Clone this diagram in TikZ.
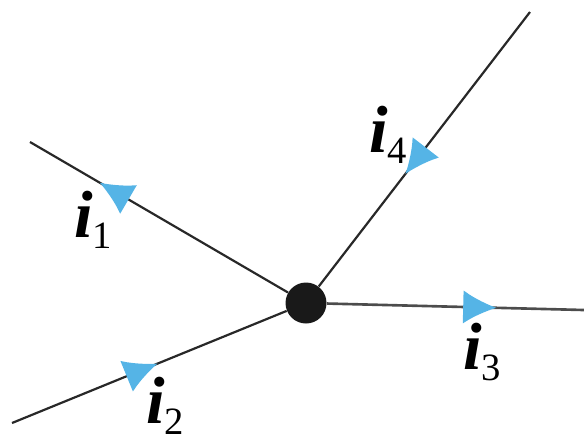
\documentclass[tikz,border=0pt]{standalone}
\usepackage{fontspec}
\setmainfont{Liberation Serif}
\usepackage{xcolor}
\definecolor{wireblack}{RGB}{40, 40, 40}
\definecolor{currentblue}{RGB}{85, 180, 230}
\usepackage{tikz}
\usetikzlibrary{arrows.meta,decorations.markings}
\tikzset{
  wire/.style={draw=wireblack, line width=1.25pt},
  junction/.style={
    circle, fill=black!90, draw=none, minimum size=0.82cm, inner sep=0pt
  },
  currentlabel/.style={font=\fontsize{38}{42}\selectfont, inner sep=0pt},
  flowmark/.style={
    postaction={decorate},
    decoration={markings, mark=at position #1 with
      {\arrow{Latex[length=19pt,width=19pt,color=currentblue]}}}
  },
}
\newcommand{\cur}[1]{\textbf{\textit{i}}\raisebox{-6pt}{\fontsize{22}{24}\selectfont #1}}

\begin{document}
\begin{tikzpicture}[x=0.02cm, y=-0.02cm]
  \useasboundingbox (0,0) rectangle (584,441);

  \node[junction] (node) at (306,303) {};

  % free ends of the four branches
  \coordinate (end1) at (30,142);
  \coordinate (end2) at (12,423);
  \coordinate (end3) at (584,310);
  \coordinate (end4) at (530,12);

  \draw[wire, flowmark=0.73] (node) -- (end1);
  \draw[wire, flowmark=0.53] (end2) -- (node);
  \draw[wire, draw=black!70, line width=1.5pt, flowmark=0.66] (node) -- (end3);
  \draw[wire, flowmark=0.59] (end4) -- (node);

  \node[currentlabel] (lbl1) at (93,220) {\cur{1}};
  \node[currentlabel] (lbl2) at (165,406) {\cur{2}};
  \node[currentlabel] (lbl3) at (482,352) {\cur{3}};
  \node[currentlabel] (lbl4) at (388,135) {\cur{4}};

\end{tikzpicture}
\end{document}
